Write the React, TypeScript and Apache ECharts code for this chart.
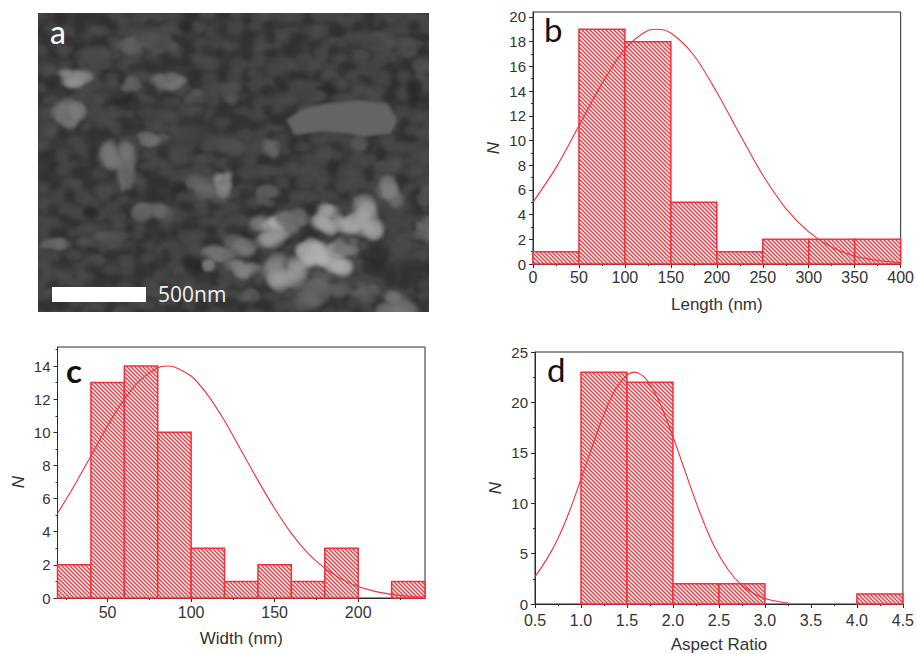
import React, { useEffect, useRef } from "react";
import * as echarts from "echarts";

const lengthEdges = [0, 50, 100, 150, 200, 250, 300, 350, 400];
const lengthCounts = [1, 19, 18, 5, 1, 2, 2, 2];
const lengthCurveX = [0, 25, 50, 75, 100, 125, 135, 150, 175, 200, 225, 250, 275, 300, 325, 350, 375, 400];
const lengthCurveY = [5, 7.8, 11.2, 14.6, 17.4, 18.9, 19, 18.7, 16.9, 13.9, 10.5, 7.2, 4.5, 2.6, 1.35, 0.64, 0.28, 0.11];

const widthEdges = [20, 40, 60, 80, 100, 120, 140, 160, 180, 200, 220, 240];
const widthCounts = [2, 13, 14, 10, 3, 1, 2, 1, 3, 0, 1];
const widthCurveX = [20, 30, 40, 50, 60, 70, 80, 86, 90, 100, 110, 120, 130, 140, 150, 160, 170, 180, 190, 200, 210, 220, 230, 240];
const widthCurveY = [5.1, 6.77, 8.57, 10.4, 12, 13.2, 13.9, 14, 13.95, 13.4, 12.25, 10.7, 8.9, 7.1, 5.4, 3.9, 2.7, 1.8, 1.14, 0.69, 0.4, 0.22, 0.11, 0.06];

const ratioEdges = [0.5, 1, 1.5, 2, 2.5, 3, 3.5, 4, 4.5];
const ratioCounts = [0, 23, 22, 2, 2, 0, 0, 1];
const ratioCurveX = [0.5, 0.625, 0.75, 0.875, 1, 1.125, 1.25, 1.375, 1.5, 1.58, 1.7, 1.85, 2, 2.15, 2.3, 2.45, 2.6, 2.75, 2.9, 3.05, 3.25];
const ratioCurveY = [2.7, 4.4, 6.5, 9.2, 12.4, 15.7, 18.8, 21.3, 22.7, 23, 22.4, 20.1, 16.6, 12.7, 8.9, 5.7, 3.4, 1.86, 0.94, 0.43, 0.1];

const lengthXTicks = [0, 50, 100, 150, 200, 250, 300, 350, 400];
const lengthXMinor = [25, 75, 125, 175, 225, 275, 325, 375];
const lengthYTicks = [0, 2, 4, 6, 8, 10, 12, 14, 16, 18, 20];
const lengthYMinor = [1, 3, 5, 7, 9, 11, 13, 15, 17, 19];
const widthXTicks = [50, 100, 150, 200];
const widthXMinor = [25, 75, 125, 175, 225];
const widthYTicks = [0, 2, 4, 6, 8, 10, 12, 14];
const widthYMinor = [1, 3, 5, 7, 9, 11, 13, 15];
const ratioXTicks = [0.5, 1, 1.5, 2, 2.5, 3, 3.5, 4, 4.5];
const ratioXMinor = [0.75, 1.25, 1.75, 2.25, 2.75, 3.25, 3.75, 4.25];
const ratioYTicks = [0, 5, 10, 15, 20, 25];
const ratioYMinor = [2.5, 7.5, 12.5, 17.5, 22.5];

const RED = "#f0303c";
const AXIS = "#2b2b2b";
const TEXT = "#333333";
const SANS = '"Liberation Sans", Arial, sans-serif';

// [x, y, rx, ry, gray] of the brighter grains in the micrograph, in 3x photo coordinates
const photoGrains: number[][] = [
  [100, 195, 60, 28, 140], [80, 290, 52, 58, 125], [275, 90, 42, 32, 95], [370, 100, 48, 30, 88],
  [280, 215, 32, 20, 105], [395, 205, 42, 28, 120], [345, 375, 48, 20, 110], [240, 440, 52, 62, 120],
  [265, 500, 20, 30, 110], [340, 590, 52, 40, 110], [510, 525, 60, 40, 105], [555, 510, 35, 35, 135], [700, 405, 26, 26, 100],
  [960, 390, 30, 25, 85], [575, 235, 35, 35, 85],
  [1060, 525, 42, 42, 125], [880, 630, 55, 50, 165], [975, 620, 62, 62, 165], [700, 660, 62, 42, 165],
  [820, 720, 50, 45, 185], [880, 745, 50, 42, 180], [750, 770, 62, 52, 155],
  [610, 770, 42, 25, 130], [510, 755, 16, 16, 125], [690, 545, 40, 30, 100], [1080, 880, 58, 48, 125],
  [1170, 650, 35, 35, 110], [50, 690, 40, 15, 105], [200, 680, 72, 25, 82], [350, 60, 62, 40, 78],
  [850, 830, 82, 50, 105], [1170, 550, 30, 30, 88], [1160, 160, 30, 30, 85], [480, 250, 30, 20, 82],
  [980, 840, 40, 25, 100], [1120, 100, 40, 25, 78], [640, 850, 30, 20, 90], [560, 400, 60, 30, 80], [1050, 460, 30, 20, 85],
  [620, 700, 60, 28, 120], [550, 725, 55, 22, 118], [760, 620, 50, 30, 120], [920, 700, 40, 30, 125],
  [800, 240, 60, 30, 75], [180, 130, 55, 35, 80], [1000, 80, 70, 30, 76], [450, 380, 60, 40, 72],
];
// [[x, y] ...] of the flat rod, in the same coordinates
const photoRod: number[][] = [[745, 320], [790, 290], [860, 272], [960, 262], [1050, 272], [1078, 322], [1058, 362], [985, 370], [870, 355], [770, 365]];
// [x, y, rx, ry] of the dark pits
const photoPits: number[][] = [
  [270, 270, 50, 28], [870, 230, 40, 25], [130, 480, 40, 25], [420, 520, 35, 25], [720, 320, 35, 25],
  [1130, 230, 30, 50], [470, 760, 40, 35], [1020, 720, 45, 50], [640, 600, 30, 20], [160, 600, 30, 20],
  [700, 120, 30, 18], [440, 40, 30, 18],
];

const hash = (a: number, b: number) => Math.abs(Math.sin(a * 12.9898 + b * 78.233) * 43758.5453) % 1;

function softBlob(c: CanvasRenderingContext2D, x: number, y: number, rx: number, ry: number, g: number, a: number) {
  c.save();
  c.translate(x, y);
  c.scale(rx, ry);
  const grad = c.createRadialGradient(0, 0, 0, 0, 0, 1);
  grad.addColorStop(0, `rgba(${g},${g},${g},${a})`);
  grad.addColorStop(0.6, `rgba(${g},${g},${g},${a * 0.75})`);
  grad.addColorStop(1, `rgba(${g},${g},${g},0)`);
  c.fillStyle = grad;
  c.beginPath();
  c.arc(0, 0, 1, 0, Math.PI * 2);
  c.fill();
  c.restore();
}

function polyFill(c: CanvasRenderingContext2D, pts: number[][], g: number) {
  c.fillStyle = `rgb(${g},${g},${g})`;
  c.beginPath();
  pts.forEach(([x, y], k) => (k ? c.lineTo(x / 3, y / 3) : c.moveTo(x / 3, y / 3)));
  c.closePath();
  c.fill();
}

function makePhoto(): string {
  const w = 391;
  const h = 299;
  const cv = document.createElement("canvas");
  cv.width = w;
  cv.height = h;
  const c = cv.getContext("2d") as CanvasRenderingContext2D;
  c.fillStyle = "#3a3a3a";
  c.fillRect(0, 0, w, h);
  c.filter = "blur(1.2px)";
  for (let j = 0; j < 26; j++) {
    for (let i = 0; i < 34; i++) {
      const s1 = hash(i, j);
      const s2 = hash(i + 31, j + 7);
      const s3 = hash(i + 5, j + 53);
      softBlob(c, i * 12 + s1 * 10, j * 12 + s2 * 10, 7 + s3 * 6, 6 + s1 * 5, s3 > 0.4 ? 78 : 44, 0.6);
    }
  }
  photoPits.forEach(([x, y, rx, ry]) => softBlob(c, x / 3, y / 3, rx / 3, ry / 3, 30, 0.55));
  c.filter = "blur(1.8px)";
  photoGrains.forEach(([x, y, rx, ry, g], n) => {
    for (let k = 0; k < 12; k++) {
      const a = hash(n, k) * Math.PI * 2;
      const d = 0.15 + hash(k, n + 9) * 0.75;
      const sz = 0.3 + hash(n + 3, k + 17) * 0.3;
      const gg = Math.round(g * (0.85 + hash(n + 11, k + 2) * 0.22));
      softBlob(c, (x + Math.cos(a) * rx * d) / 3, (y + Math.sin(a) * ry * d) / 3, (rx * sz) / 3 + 2, (ry * sz) / 3 + 2, gg, 0.7);
    }
  });
  polyFill(c, photoRod, 100);
  c.filter = "none";
  return cv.toDataURL("image/jpeg", 0.85);
}

function makeHatch(): HTMLCanvasElement {
  const size = 4;
  const cv = document.createElement("canvas");
  cv.width = size;
  cv.height = size;
  const c = cv.getContext("2d") as CanvasRenderingContext2D;
  c.fillStyle = "#fff6f0";
  c.fillRect(0, 0, size, size);
  c.strokeStyle = "#ec3b48";
  c.lineWidth = 1.4;
  for (let k = -size; k <= size; k += size) {
    c.beginPath();
    c.moveTo(k - 1, -1);
    c.lineTo(k + size + 1, size + 1);
    c.stroke();
  }
  return cv;
}

type Panel = {
  left: number; top: number; width: number; height: number;
  xMin: number; xMax: number; yMax: number;
  xTicks: number[]; xMinor: number[]; yTicks: number[]; yMinor: number[];
  xName: string; edges: number[]; counts: number[]; curveX: number[]; curveY: number[];
  xDigits: number; nameDrop: number; xMargin: number;
};

const panels: Panel[] = [
  { left: 533, top: 12, width: 369, height: 252, xMin: 0, xMax: 400, yMax: 20.4,
    xTicks: lengthXTicks, xMinor: lengthXMinor, yTicks: lengthYTicks, yMinor: lengthYMinor,
    xName: "Length (nm)", edges: lengthEdges, counts: lengthCounts, curveX: lengthCurveX, curveY: lengthCurveY,
    xDigits: 0, nameDrop: 20, xMargin: 5 },
  { left: 57.5, top: 347, width: 367.5, height: 251, xMin: 20, xMax: 240, yMax: 15.15,
    xTicks: widthXTicks, xMinor: widthXMinor, yTicks: widthYTicks, yMinor: widthYMinor,
    xName: "Width (nm)", edges: widthEdges, counts: widthCounts, curveX: widthCurveX, curveY: widthCurveY,
    xDigits: 0, nameDrop: 19, xMargin: 6 },
  { left: 535, top: 352, width: 368, height: 252, xMin: 0.5, xMax: 4.5, yMax: 25,
    xTicks: ratioXTicks, xMinor: ratioXMinor, yTicks: ratioYTicks, yMinor: ratioYMinor,
    xName: "Aspect Ratio", edges: ratioEdges, counts: ratioCounts, curveX: ratioCurveX, curveY: ratioCurveY,
    xDigits: 1, nameDrop: 20, xMargin: 8 },
];

const letters = [
  { text: "a", x: 50, y: 15, fill: "#ffffff", size: 32, weight: 400 },
  { text: "b", x: 544, y: 12, fill: "#111111", size: 33, weight: 400 },
  { text: "c", x: 66, y: 353, fill: "#111111", size: 33, weight: 700 },
  { text: "d", x: 547, y: 352, fill: "#111111", size: 33, weight: 400 },
];

function buildOption(photo: string, hatch: HTMLCanvasElement) {
  const grid: any[] = [];
  const xAxis: any[] = [];
  const yAxis: any[] = [];
  const series: any[] = [];
  panels.forEach((p, i) => {
    grid.push({ left: p.left, top: p.top, width: p.width, height: p.height, show: true,
      borderColor: AXIS, borderWidth: 1, backgroundColor: "#ffffff", containLabel: false });
    const lineStyle = { color: AXIS, width: 1 };
    xAxis.push({
      type: "value", gridIndex: i, min: p.xMin, max: p.xMax, splitLine: { show: false },
      axisLine: { show: true, onZero: false, lineStyle },
      axisTick: { show: true, length: 4, lineStyle, customValues: p.xTicks },
      axisLabel: { show: true, customValues: p.xTicks, margin: p.xMargin, color: TEXT, fontSize: 16, fontFamily: SANS,
        hideOverlap: false, showMinLabel: true, showMaxLabel: true,
        formatter: (v: number) => v.toFixed(p.xDigits) },
      name: p.xName, nameLocation: "middle", nameGap: 32,
      nameTextStyle: { color: TEXT, fontSize: 17, fontFamily: SANS, verticalAlign: "top" },
    });
    xAxis.push({
      type: "value", gridIndex: i, min: p.xMin, max: p.xMax, position: "bottom", splitLine: { show: false },
      axisLine: { show: false, onZero: false },
      axisTick: { show: true, length: 2, lineStyle, customValues: p.xMinor },
      axisLabel: { show: false },
    });
    yAxis.push({
      type: "value", gridIndex: i, min: 0, max: p.yMax, splitLine: { show: false },
      axisLine: { show: true, onZero: false, lineStyle },
      axisTick: { show: true, length: 4, lineStyle, customValues: p.yTicks },
      axisLabel: { show: true, customValues: p.yTicks, margin: 7, color: TEXT, fontSize: 15, fontFamily: SANS },
      name: "N", nameLocation: "middle", nameGap: 31,
      nameTextStyle: { color: TEXT, fontSize: 17, fontFamily: SANS, fontStyle: "italic", padding: [0, p.nameDrop, 0, 0] },
    });
    yAxis.push({
      type: "value", gridIndex: i, min: 0, max: p.yMax, position: "left", splitLine: { show: false },
      axisLine: { show: false, onZero: false },
      axisTick: { show: true, length: 2, lineStyle, customValues: p.yMinor },
      axisLabel: { show: false },
    });
    const bins = p.counts
      .map((n, k) => [p.edges[k], p.edges[k + 1], n])
      .filter((b) => b[2] > 0);
    series.push({
      type: "custom", xAxisIndex: i * 2, yAxisIndex: i * 2, clip: false, silent: true, z: 3,
      encode: { x: [0, 1], y: 2 },
      data: bins,
      renderItem: (_: any, api: any) => {
        const a = api.coord([api.value(0), api.value(2)]);
        const b = api.coord([api.value(1), 0]);
        return {
          type: "rect",
          shape: { x: a[0], y: a[1], width: b[0] - a[0], height: b[1] - a[1] },
          style: { fill: { image: hatch, repeat: "repeat" }, stroke: RED, lineWidth: 1.5 },
        };
      },
    });
    series.push({
      type: "line", xAxisIndex: i * 2, yAxisIndex: i * 2, showSymbol: false, smooth: 0.3, z: 4, silent: true,
      lineStyle: { color: RED, width: 1.1 },
      data: p.curveX.map((x, k) => [x, p.curveY[k]]),
    });
    // keep the minor-tick axes attached to a scale
    series.push({ type: "line", xAxisIndex: i * 2 + 1, yAxisIndex: i * 2 + 1, data: [], silent: true });
  });

  const graphic: any[] = [
    { type: "image", x: 38, y: 13, z: 1, style: { image: photo, x: 0, y: 0, width: 391, height: 299 } },
    { type: "rect", z: 2, shape: { x: 52, y: 287, width: 94, height: 15 }, style: { fill: "#ffffff" } },
    { type: "text", z: 2, x: 158, y: 304, style: { text: "500nm", fill: "#f2f2f2", fontSize: 21,
      fontFamily: '"Open Sans", sans-serif', verticalAlign: "bottom" } },
    ...letters.map((l) => ({
      type: "text", z: 10, x: l.x, y: l.y,
      style: { text: l.text, fill: l.fill, fontSize: l.size, fontWeight: l.weight, fontFamily: "Lato, sans-serif" },
    })),
  ];

  return { animation: false, backgroundColor: "#ffffff", grid, xAxis, yAxis, series, graphic };
}

export default function App() {
  const ref = useRef<HTMLDivElement>(null);
  useEffect(() => {
    const chart = echarts.init(ref.current as HTMLDivElement, undefined, { renderer: "svg" });
    chart.setOption(buildOption(makePhoto(), makeHatch()) as any);
    return () => chart.dispose();
  }, []);
  return <div ref={ref} style={{ position: "fixed", left: 0, top: 0, width: 917, height: 654 }} />;
}
